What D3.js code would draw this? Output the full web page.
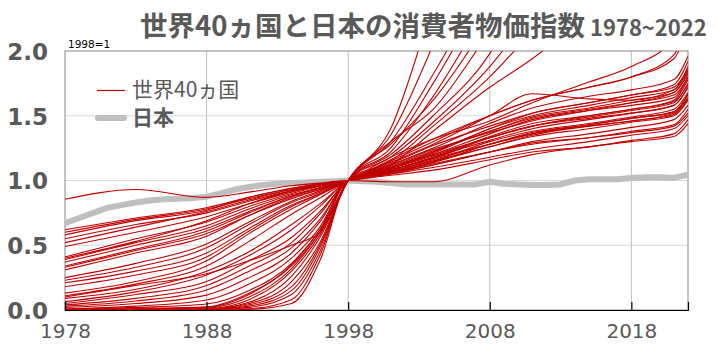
<!DOCTYPE html>
<html>
<head>
<meta charset="utf-8">
<script src="https://cdn.jsdelivr.net/npm/d3@7"></script>
<style>
  body { margin: 0; background: #fff; }
  svg { display: block; }
</style>
</head>
<body>
<div id="chart"></div>
<script>
// sample years for the 40 countries (1998 = 1)
var years = [1978, 1983, 1988, 1991, 1994, 1996, 1998, 2001, 2004, 2008, 2011, 2015, 2018, 2021, 2022];

// 世界40ヵ国 CPI
var worldCpi = [
  [0.855, 0.93, 0.87, 0.91, 0.96, 0.98, 1, 0.99, 0.99, 1.12, 1.20, 1.26, 1.30, 1.34, 1.44],
  [0.62, 0.71, 0.79, 0.87, 0.94, 0.975, 1, 1.05, 1.10, 1.18, 1.24, 1.30, 1.35, 1.40, 1.50],
  [0.60, 0.70, 0.78, 0.86, 0.93, 0.965, 1, 1.06, 1.13, 1.22, 1.29, 1.33, 1.38, 1.43, 1.55],
  [0.58, 0.69, 0.77, 0.87, 0.94, 0.975, 1, 1.04, 1.08, 1.16, 1.22, 1.26, 1.31, 1.36, 1.47],
  [0.55, 0.66, 0.75, 0.84, 0.92, 0.96, 1, 1.07, 1.15, 1.26, 1.34, 1.40, 1.45, 1.50, 1.62],
  [0.52, 0.64, 0.76, 0.85, 0.93, 0.97, 1, 1.06, 1.12, 1.22, 1.30, 1.36, 1.41, 1.47, 1.58],
  [0.49, 0.60, 0.72, 0.82, 0.91, 0.96, 1, 1.08, 1.17, 1.28, 1.36, 1.43, 1.48, 1.53, 1.66],
  [0.41, 0.55, 0.68, 0.80, 0.90, 0.955, 1, 1.08, 1.18, 1.31, 1.40, 1.47, 1.52, 1.58, 1.72],
  [0.40, 0.53, 0.69, 0.82, 0.92, 0.96, 1, 1.06, 1.14, 1.26, 1.35, 1.42, 1.46, 1.52, 1.64],
  [0.39, 0.52, 0.65, 0.78, 0.89, 0.945, 1, 1.10, 1.20, 1.33, 1.42, 1.50, 1.55, 1.62, 1.78],
  [0.37, 0.50, 0.63, 0.76, 0.88, 0.94, 1, 1.12, 1.24, 1.37, 1.46, 1.54, 1.60, 1.68, 1.82],
  [0.34, 0.47, 0.61, 0.75, 0.88, 0.94, 1, 1.07, 1.16, 1.28, 1.36, 1.42, 1.46, 1.51, 1.63],
  [0.33, 0.46, 0.59, 0.73, 0.86, 0.93, 1, 1.13, 1.27, 1.42, 1.52, 1.60, 1.66, 1.74, 1.92],
  [0.31, 0.44, 0.57, 0.73, 0.87, 0.93, 1, 1.05, 1.12, 1.22, 1.28, 1.33, 1.37, 1.42, 1.52],
  [0.25, 0.36, 0.51, 0.68, 0.84, 0.92, 1, 1.15, 1.30, 1.50, 1.62, 1.72, 1.80, 1.97, 2.25],
  [0.23, 0.33, 0.48, 0.66, 0.83, 0.91, 1, 1.09, 1.19, 1.33, 1.42, 1.49, 1.54, 1.60, 1.75],
  [0.21, 0.30, 0.44, 0.63, 0.81, 0.90, 1, 1.16, 1.32, 1.50, 1.62, 1.72, 1.80, 1.94, 2.20],
  [0.18, 0.27, 0.41, 0.61, 0.80, 0.895, 1, 1.10, 1.22, 1.38, 1.48, 1.55, 1.60, 1.66, 1.80],
  [0.13, 0.22, 0.38, 0.59, 0.78, 0.89, 1, 1.18, 1.32, 1.46, 1.60, 1.76, 1.88, 2.10, 2.30],
  [0.11, 0.20, 0.34, 0.53, 0.74, 0.865, 1, 1.14, 1.28, 1.50, 1.67, 1.63, 1.62, 1.70, 1.85],
  [0.09, 0.16, 0.30, 0.45, 0.66, 0.82, 1, 1.10, 1.22, 1.40, 1.52, 1.60, 1.66, 1.72, 1.86],
  [0.065, 0.14, 0.27, 0.42, 0.62, 0.80, 1, 1.08, 1.18, 1.34, 1.44, 1.50, 1.55, 1.61, 1.74],
  [0.05, 0.12, 0.22, 0.38, 0.56, 0.76, 1, 1.12, 1.25, 1.44, 1.56, 1.65, 1.70, 1.78, 1.96],
  [0.04, 0.09, 0.19, 0.34, 0.52, 0.74, 1, 1.09, 1.20, 1.36, 1.47, 1.54, 1.58, 1.64, 1.80],
  [0.03, 0.07, 0.155, 0.30, 0.48, 0.70, 1, 1.11, 1.23, 1.38, 1.49, 1.56, 1.62, 1.68, 1.84],
  [0.02, 0.05, 0.115, 0.25, 0.44, 0.68, 1, 1.07, 1.15, 1.30, 1.38, 1.44, 1.49, 1.55, 1.68],
  [0.10, 0.19, 0.28, 0.38, 0.50, 0.60, 1, 1.30, 1.55, 2.15, 2.6, 3.1, 3.4, 3.6, 3.8],
  [0.008, 0.03, 0.077, 0.20, 0.40, 0.64, 1, 1.08, 1.17, 1.33, 1.42, 1.48, 1.52, 1.58, 1.72],
  [0.005, 0.02, 0.046, 0.15, 0.36, 0.62, 1, 1.06, 1.14, 1.28, 1.37, 1.43, 1.48, 1.53, 1.67],
  [0.004, 0.012, 0.025, 0.13, 0.34, 0.60, 1, 1.10, 1.21, 1.40, 1.50, 1.58, 1.64, 1.70, 1.88],
  [0.003, 0.008, 0.02, 0.12, 0.35, 0.62, 1, 1.40, 2.35, 3.5, 4.5, 5.5, 6.5, 7.0, 8.0],
  [0.002, 0.006, 0.015, 0.10, 0.32, 0.60, 1, 1.35, 2.05, 3.2, 4.0, 5.0, 6.0, 7.0, 8.0],
  [0.002, 0.004, 0.01, 0.08, 0.30, 0.58, 1, 1.30, 1.82, 2.6, 3.2, 4.0, 4.6, 5.0, 5.5],
  [0.001, 0.003, 0.008, 0.06, 0.26, 0.56, 1, 1.25, 1.75, 2.5, 3.0, 3.6, 4.0, 4.4, 5.0],
  [0.001, 0.002, 0.006, 0.05, 0.22, 0.52, 1, 1.22, 1.65, 2.35, 2.8, 3.3, 3.8, 4.2, 4.8],
  [0.0005, 0.001, 0.004, 0.04, 0.18, 0.50, 1, 1.28, 1.62, 2.25, 2.8, 3.4, 3.9, 4.3, 5.0],
  [0.0002, 0.0008, 0.003, 0.03, 0.15, 0.48, 1, 1.20, 1.50, 1.98, 2.6, 3.2, 3.7, 4.0, 4.5],
  [0.0001, 0.0005, 0.002, 0.02, 0.12, 0.45, 1, 1.18, 1.45, 1.88, 2.3, 2.9, 3.4, 3.8, 4.2],
  [0.0001, 0.0003, 0.001, 0.01, 0.08, 0.42, 1, 1.15, 1.42, 1.80, 2.15, 2.6, 3.0, 3.3, 3.6],
  [0.00001, 0.0001, 0.0005, 0.005, 0.05, 0.38, 1, 1.12, 1.38, 1.72, 1.94, 2.3, 2.6, 2.8, 3.0]
];

// 日本 CPI, every year 1978..2022
var japanYears = d3.range(1978, 2023);
var japanCpi = [
  0.67, 0.71, 0.75, 0.79, 0.81, 0.83, 0.845, 0.855, 0.86, 0.865,
  0.875, 0.90, 0.93, 0.95, 0.965, 0.975, 0.98, 0.985, 0.99, 0.995,
  1.00, 0.995, 0.99, 0.98, 0.97, 0.97, 0.97, 0.97, 0.97, 0.97,
  0.99, 0.975, 0.97, 0.965, 0.965, 0.97, 1.00, 1.01, 1.01, 1.01,
  1.02, 1.025, 1.025, 1.02, 1.045
];

var xTicks = [1978, 1988, 1998, 2008, 2018];
var yTicks = [0, 0.5, 1, 1.5, 2];

var W = 717, H = 353;
var pL = 65, pR = 688, pT = 51, pB = 310;
var grey = '#595959', red = '#c00000', jpGrey = '#bfbfbf';
var jpFont = '"Noto Sans CJK JP", sans-serif';

var x = d3.scaleLinear().domain([1978, 2022]).range([pL, pR]);
var y = d3.scaleLinear().domain([0, 2]).range([pB, pT]);

var svg = d3.select('#chart').append('svg').attr('width', W).attr('height', H);
svg.append('rect').attr('width', W).attr('height', H).attr('fill', '#fff');

//タイトル
var title = svg.append('text').attr('x', 140).attr('y', 36)
    .attr('font-family', jpFont).attr('font-weight', 'bold').attr('fill', grey);
title.append('tspan').attr('font-size', 27.5).text('世界40ヵ国と日本の消費者物価指数');
title.append('tspan').attr('font-size', 22).attr('dx', 5).text('1978~2022');

//グリッド
svg.selectAll('.hgrid').data([0.5, 1, 1.5]).enter().append('line')
    .attr('x1', pL).attr('x2', pR).attr('y1', y).attr('y2', y)
    .attr('stroke', '#d9d9d9').attr('stroke-width', 1);
svg.selectAll('.vgrid').data(xTicks.slice(1)).enter().append('line')
    .attr('x1', x).attr('x2', x).attr('y1', pT).attr('y2', pB)
    .attr('stroke', '#c0c0c0').attr('stroke-width', 1);

// plot border
svg.append('rect').attr('x', pL).attr('y', pT).attr('width', pR - pL).attr('height', pB - pT)
    .attr('fill', 'none').attr('stroke', '#888').attr('stroke-width', 1);

svg.append('clipPath').attr('id', 'plotclip').append('rect')
    .attr('x', pL).attr('y', pT).attr('width', pR - pL).attr('height', pB - pT);

var plot = svg.append('g').attr('clip-path', 'url(#plotclip)');

// 日本 (thick grey)
var jpLine = d3.line().x(function (d, i) { return x(japanYears[i]); }).y(function (d) { return y(d); });
plot.append('path').attr('d', jpLine(japanCpi)).attr('fill', 'none')
    .attr('stroke', jpGrey).attr('stroke-width', 6).attr('stroke-linejoin', 'round');

// 40 countries
var wLine = d3.line().x(function (d, i) { return x(years[i]); }).y(function (d) { return y(d); })
    .curve(d3.curveMonotoneX);
plot.selectAll('.country').data(worldCpi).enter().append('path')
    .attr('d', wLine).attr('fill', 'none')
    .attr('stroke', red).attr('stroke-width', 1.1).attr('stroke-linejoin', 'round');

//x軸
var xAxis = svg.append('g').attr('transform', 'translate(0,' + pB + ')')
    .call(d3.axisBottom(x).tickValues(xTicks).tickSize(-8).tickFormat(d3.format('d')));
xAxis.select('.domain').attr('stroke', '#000').attr('stroke-width', 1.2);
xAxis.selectAll('.tick line').attr('stroke', '#000').attr('stroke-width', 1.2);
xAxis.selectAll('.tick text').attr('y', 28).attr('dy', 0)
    .attr('font-family', '"DejaVu Sans", sans-serif').attr('font-size', 20).attr('fill', grey);

//y軸
var yAxis = svg.append('g').attr('transform', 'translate(' + (pL - 17) + ',0)')
    .call(d3.axisLeft(y).tickValues(yTicks).tickSize(0).tickPadding(0).tickFormat(d3.format('.1f')));
yAxis.select('.domain').remove();
yAxis.selectAll('.tick text').attr('dy', '0.36em')
    .attr('font-family', '"DejaVu Sans", sans-serif').attr('font-weight', 'bold')
    .attr('font-size', 23).attr('fill', grey);

// 1998=1
svg.append('text').attr('x', 68).attr('y', 47.5).text('1998=1')
    .attr('font-family', '"DejaVu Sans", sans-serif').attr('font-size', 10.5).attr('fill', '#000');

//凡例
svg.append('line').attr('x1', 97).attr('x2', 125).attr('y1', 90.5).attr('y2', 90.5)
    .attr('stroke', red).attr('stroke-width', 1.2);
svg.append('text').attr('x', 132).attr('y', 97).text('世界40ヵ国')
    .attr('font-family', jpFont).attr('font-size', 21).attr('fill', grey);
svg.append('line').attr('x1', 98).attr('x2', 124).attr('y1', 118).attr('y2', 118)
    .attr('stroke', jpGrey).attr('stroke-width', 6).attr('stroke-linecap', 'round');
svg.append('text').attr('x', 132).attr('y', 125).text('日本')
    .attr('font-family', jpFont).attr('font-weight', 'bold').attr('font-size', 21).attr('fill', grey);
</script>
</body>
</html>
